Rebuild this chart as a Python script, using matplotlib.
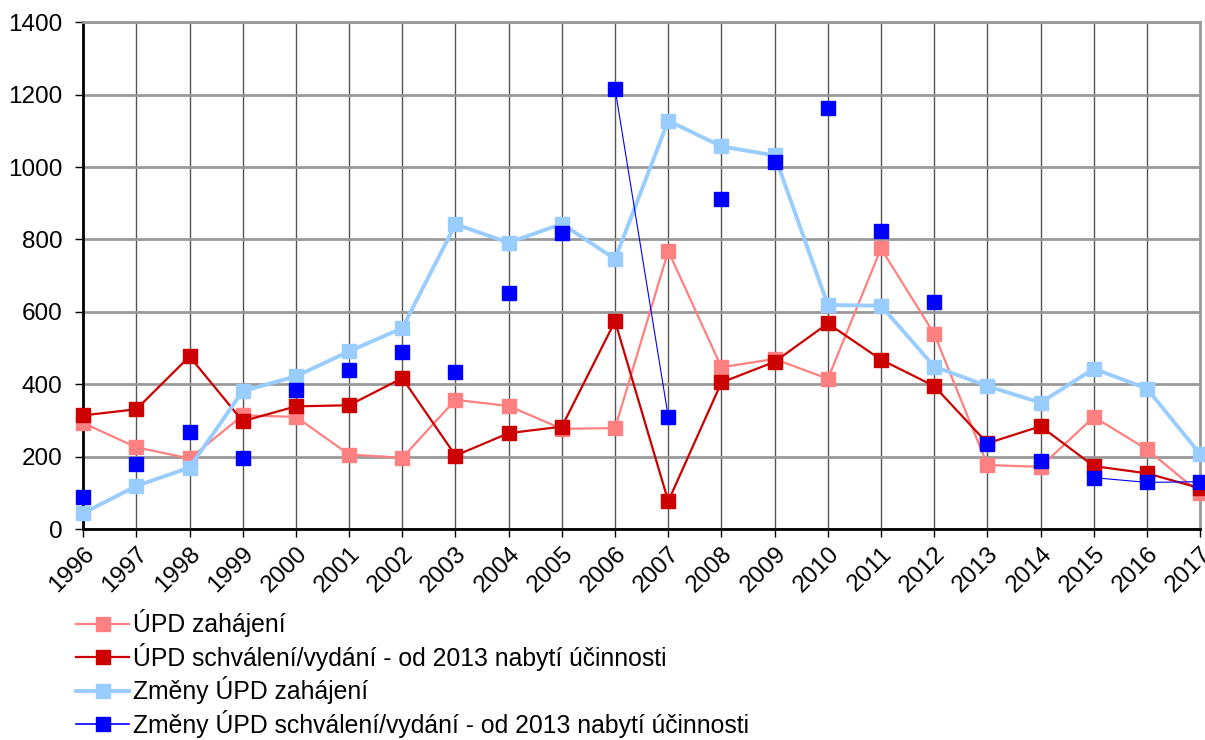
import matplotlib.pyplot as plt
from matplotlib.lines import Line2D

plt.rcParams['font.family'] = ['Liberation Sans', 'DejaVu Sans']

years = list(range(1996, 2018))

upd_zahajeni = [293, 226, 195, 314, 310, 206, 197, 357, 340, 277, 279, 768,
                447, 470, 415, 775, 539, 177, 172, 310, 220, 99]
upd_schvaleni = [314, 331, 477, 298, 339, 342, 417, 203, 265, 283, 574, 77,
                 405, 462, 568, 468, 395, 237, 284, 174, 154, 113]
zmeny_zahajeni = [44, 119, 170, 381, 422, 491, 555, 842, 791, 843, 746, 1128,
                  1057, 1032, 619, 617, 449, 395, 349, 443, 388, 207]
zmeny_schvaleni = [88, 180, 269, 195, 383, 440, 490, 433, 651, 817, 1216, 310,
                   911, 1014, 1163, 823, 628, 234, 188, 142, 129, 131]
# only these consecutive years of the last series are joined by a line
zmeny_schvaleni_links = [(2006, 2007), (2015, 2016), (2016, 2017)]

labels = ["ÚPD zahájení",
          "ÚPD schválení/vydání - od 2013 nabytí účinnosti",
          "Změny ÚPD zahájení",
          "Změny ÚPD schválení/vydání - od 2013 nabytí účinnosti"]
colors = ["#FF8080", "#CC0000", "#99CCFF", "#0000FF"]
widths = [1.6, 1.6, 2.8, 0.8]

fig = plt.figure(figsize=(12.05, 7.4), dpi=100)
ax = fig.add_axes([0.069, 0.285, 0.927, 0.685])

ax.plot(years, upd_zahajeni, color=colors[0], lw=widths[0], marker='s',
        ms=10, clip_on=False, zorder=3)
ax.plot(years, upd_schvaleni, color=colors[1], lw=widths[1], marker='s',
        ms=10, clip_on=False, zorder=4)
ax.plot(years, zmeny_zahajeni, color=colors[2], lw=widths[2], marker='s',
        ms=10, clip_on=False, zorder=5)
for a, b in zmeny_schvaleni_links:
    ia, ib = years.index(a), years.index(b)
    ax.plot([a, b], [zmeny_schvaleni[ia], zmeny_schvaleni[ib]],
            color=colors[3], lw=widths[3], clip_on=False, zorder=6)
ax.plot(years, zmeny_schvaleni, color=colors[3], lw=0, marker='s',
        ms=10, clip_on=False, zorder=6)

ax.set_xlim(1996, 2017)
ax.set_ylim(0, 1400)
ax.set_xticks(years)
ax.set_xticklabels([str(y) for y in years], rotation=45, ha='right',
                   rotation_mode='anchor')
ax.set_yticks(range(0, 1401, 200))
ax.tick_params(axis='both', labelsize=17.5, length=6, width=1, color='black')
ax.tick_params(axis='x', pad=4)
ax.tick_params(axis='y', pad=9)

ax.grid(axis='x', color='#555555', lw=1)
ax.grid(axis='y', color='#999999', lw=2)
ax.set_axisbelow(True)
ax.spines['left'].set_color('black')
ax.spines['bottom'].set_color('black')
ax.spines['left'].set_linewidth(2)
ax.spines['bottom'].set_linewidth(2)
ax.spines['top'].set_color('#999999')
ax.spines['right'].set_color('#999999')
ax.spines['top'].set_linewidth(2)
ax.spines['right'].set_linewidth(2)

handles = [Line2D([], [], color=c, lw=max(w, 1.2), marker='s', ms=10)
           for c, w in zip(colors, widths)]
fig.legend(handles, labels, loc='upper left', bbox_to_anchor=(0.055, 0.19),
           frameon=False, fontsize=17.8, handlelength=2.15, handletextpad=0.15,
           labelspacing=0.22, borderaxespad=0)

fig.savefig("out.png", dpi=100)
